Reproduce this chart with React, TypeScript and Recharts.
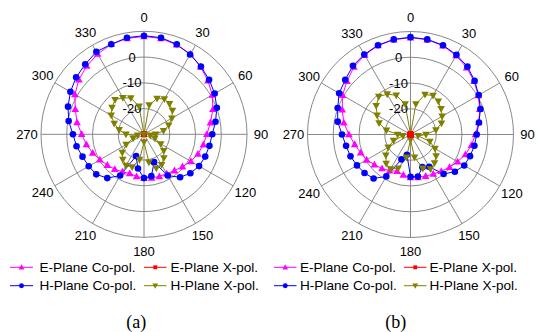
import React from 'react';
import { RadarChart, Radar, PolarGrid, PolarAngleAxis, PolarRadiusAxis } from 'recharts';

// ---------- data ----------
const angles = [0, 10, 20, 30, 40, 50, 60, 70, 80, 90, 100, 110, 120, 130, 140, 150, 160, 170,
  180, 190, 200, 210, 220, 230, 240, 250, 260, 270, 280, 290, 300, 310, 320, 330, 340, 350];

const gridAngles = [0, 30, 60, 90, 120, 150, 180, 210, 240, 270, 300, 330];
const radialTicks = [-20, -10, 0];
const radialRings = [-20, -10, 0, 10];
const radialDomain = [-30, 10];

// (a)
const aECo = [8.0, 7.8, 7.0, 6.0, 4.2, 2.4, 0.6, -1.5, -3.8, -5.6, -6.6, -7.7, -9.0, -10.5, -11.6, -12.3, -12.6, -12.8,
  -13.0, -13.4, -13.8, -13.2, -12.3, -11.4, -10.2, -8.8, -7.3, -5.8, -3.6, -1.6, 1.0, 3.0, 4.6, 6.0, 7.2, 7.8];
const aEX = [-30, -30, -30, -30, -30, -30, -30, -30, -30, -30, -30, -30, -30, -30, -30, -30, -30, -30,
  -30, -30, -30, -30, -30, -30, -30, -30, -30, -30, -30, -30, -30, -30, -30, -30, -30, -30];
const aHCo = [8.3, 8.1, 7.2, 5.8, 4.4, 3.0, 1.7, 0.1, -1.8, -3.5, -4.2, -4.7, -5.3, -6.5, -8.2, -11.5, -18.5, -13.5,
  -13.0, -16.5, -21.0, -11.5, -7.8, -5.8, -5.2, -4.6, -3.4, -2.4, -0.3, 1.4, 3.0, 4.4, 5.5, 7.0, 7.2, 8.1];
const aHX = [-30, -18.5, -15.2, -14.2, -14.6, -15.6, -17.5, -19.8, -22.3, -25.5, -27.5, -25.5, -22.5, -20, -18, -16.3, -16, -19,
  -27, -20, -16.5, -16, -17.2, -19, -22, -25.5, -27.5, -23, -20.2, -17.7, -15.3, -13.8, -12.5, -13.6, -15, -19];

// (b)
const bECo = [7.6, 7.4, 6.7, 5.4, 3.9, 2.2, 0.4, -1.4, -3.1, -4.8, -6.0, -7.3, -8.9, -10.2, -11.4, -12.3, -12.8, -13.1,
  -13.3, -14.0, -14.8, -13.8, -12.8, -11.7, -10.3, -9.4, -8.0, -6.1, -3.7, -1.8, 0.5, 2.2, 4.2, 5.6, 6.8, 7.4];
const bEX = [-30, -30, -30, -30, -30, -30, -30, -30, -30, -30, -30, -30, -30, -30, -30, -30, -30, -30,
  -30, -30, -30, -30, -30, -30, -30, -30, -30, -30, -30, -30, -30, -30, -30, -30, -30, -30];
const bHCo = [7.8, 7.5, 6.9, 5.7, 4.4, 2.5, 0.6, -1.1, -3.0, -4.3, -4.8, -5.4, -5.9, -7.5, -10, -15.5, -16.5, -13.4,
  -13.6, -22, -19.7, -11.2, -7.7, -6.7, -6.0, -5.2, -4.6, -3.4, -1.3, 0.1, 2.0, 3.1, 4.8, 5.9, 6.9, 7.5];
const bHX = [-30, -18, -13.5, -12.5, -13.2, -14.5, -15.8, -17.2, -20, -24, -27, -22, -19, -17, -15.5, -14.5, -16, -21,
  -28, -21, -16, -14.5, -15.3, -17.5, -20, -23, -27, -25, -20.5, -17, -15, -12.6, -10.8, -11.9, -13.8, -18];

const seriesNames = ['E-Plane Co-pol.', 'E-Plane X-pol.', 'H-Plane Co-pol.', 'H-Plane X-pol.'];
const panelLabels = ['(a)', '(b)'];

// ---------- styles ----------
const COL_E_CO = '#FF00FF';
const COL_E_X = '#FF0000';
const COL_H_CO = '#0000FF';
const COL_H_X = '#808000';
const GRID = '#7a7a7a';
const FONT = 'Arial, "Liberation Sans", sans-serif';
const OUTER_R = 103;

type Shape = 'up' | 'down' | 'circle' | 'square';

function Marker({ x, y, shape, color, s = 1 }: { x: number; y: number; shape: Shape; color: string; s?: number }) {
  if (shape === 'circle') return <circle cx={x} cy={y} r={3.3 * s} fill={color} stroke="none" />;
  if (shape === 'square') return <rect x={x - 2.6 * s} y={y - 2.6 * s} width={5.2 * s} height={5.2 * s} fill={color} />;
  if (shape === 'up')
    return <path d={`M${x},${y - 4 * s}L${x + 3.8 * s},${y + 2.8 * s}L${x - 3.8 * s},${y + 2.8 * s}Z`} fill={color} />;
  return <path d={`M${x},${y + 4 * s}L${x + 3.8 * s},${y - 2.8 * s}L${x - 3.8 * s},${y - 2.8 * s}Z`} fill={color} />;
}

function dotFn(shape: Shape, color: string) {
  return (p: any) => <Marker key={`d-${p.index}`} x={p.cx} y={p.cy} shape={shape} color={color} />;
}

function buildRows(eCo: number[], eX: number[], hCo: number[], hX: number[]) {
  return angles.map((a, i) => ({ angle: a, eCo: eCo[i], eX: eX[i], hCo: hCo[i], hX: hX[i] }));
}

function Panel({ rows, cx, cy, redOnTop }: { rows: any[]; cx: number; cy: number; redOnTop: boolean }) {
  const ringR = radialRings.map((v) => ((v - radialDomain[0]) / (radialDomain[1] - radialDomain[0])) * OUTER_R);
  const angleTick = (p: any) => {
    const v = Number(p.payload.value);
    if (v % 30 !== 0) return <g key={`t-${v}`} />;
    const t = (v * Math.PI) / 180;
    const rl = 117;
    return (
      <text key={`t-${v}`} x={cx + rl * Math.sin(t)} y={cy - rl * Math.cos(t)} textAnchor="middle"
        dominantBaseline="central" fontSize={13} fontFamily={FONT} fill="#000">{String(v)}</text>
    );
  };
  const radiusTick = (p: any) => {
    const v = Number(p.payload.value);
    if (!radialTicks.includes(v)) return <g key={`r-${v}`} />;
    return (
      <text key={`r-${v}`} x={cx - 12} y={p.y} textAnchor="middle" dominantBaseline="central"
        fontSize={13} fontFamily={FONT} fill="#000">{String(v)}</text>
    );
  };
  const red = <Radar key="ex" dataKey="eX" stroke={COL_E_X} strokeWidth={1} fill="none" fillOpacity={0}
    isAnimationActive={false} dot={dotFn('square', COL_E_X)} />;
  return (
    <RadarChart width={268} height={275} data={rows} cx={cx} cy={cy} outerRadius={OUTER_R}
      startAngle={90} endAngle={-270} margin={{ top: 0, right: 0, bottom: 0, left: 0 }}>
      <PolarGrid gridType="circle" polarAngles={gridAngles} polarRadius={ringR} stroke={GRID} strokeWidth={0.9} />
      <PolarAngleAxis dataKey="angle" axisLine={false} tickLine={false} tick={angleTick} />
      <PolarRadiusAxis angle={90} type="number" domain={radialDomain} tickCount={5} axisLine={false}
        tickLine={false} tick={radiusTick} allowDataOverflow />
      {!redOnTop && red}
      <Radar dataKey="eCo" stroke={COL_E_CO} strokeWidth={1} fill="none" fillOpacity={0}
        isAnimationActive={false} dot={dotFn('up', COL_E_CO)} />
      <Radar dataKey="hCo" stroke={COL_H_CO} strokeWidth={1} fill="none" fillOpacity={0}
        isAnimationActive={false} dot={dotFn('circle', COL_H_CO)} />
      <Radar dataKey="hX" stroke={COL_H_X} strokeWidth={1} fill="none" fillOpacity={0}
        isAnimationActive={false} dot={dotFn('down', COL_H_X)} />
      {redOnTop && red}
    </RadarChart>
  );
}

const legendCols = [
  { line: [10, 33], text: 39.5 },
  { line: [144, 166.5], text: 170.5 },
  { line: [274, 296.5], text: 300 },
  { line: [404, 426.5], text: 429.5 },
];
const legendRows = [267.3, 285.7];
const legendShapes: Shape[] = ['up', 'square', 'circle', 'down'];
const legendColors = [COL_E_CO, COL_E_X, COL_H_CO, COL_H_X];

function Legend({ c0, c1 }: { c0: number; c1: number }) {
  const items = [0, 1, 2, 3].map((i) => {
    const col = legendCols[i % 2 === 0 ? c0 : c1];
    const y = legendRows[i < 2 ? 0 : 1];
    const mx = (col.line[0] + col.line[1]) / 2;
    return (
      <g key={i}>
        <line x1={col.line[0]} x2={col.line[1]} y1={y} y2={y} stroke={legendColors[i]} strokeWidth={1} />
        <Marker x={mx} y={y} shape={legendShapes[i]} color={legendColors[i]} s={0.75} />
        <text x={col.text} y={y} dominantBaseline="central" fontSize={13.6} fontFamily={FONT} fill="#000">
          {seriesNames[i]}
        </text>
      </g>
    );
  });
  return <g>{items}</g>;
}

export default function App() {
  const rowsA = buildRows(aECo, aEX, aHCo, aHX);
  const rowsB = buildRows(bECo, bEX, bHCo, bHX);
  return (
    <div style={{ position: 'fixed', left: 0, top: 0, width: 537, height: 332, background: '#fff', overflow: 'hidden' }}>
      <div style={{ position: 'absolute', left: 0, top: 0 }}>
        <Panel rows={rowsA} cx={144} cy={134.3} redOnTop={false} />
      </div>
      <div style={{ position: 'absolute', left: 268, top: 0 }}>
        <Panel rows={rowsB} cx={142.5} cy={134.5} redOnTop={true} />
      </div>
      <svg width={537} height={332} style={{ position: 'absolute', left: 0, top: 0, pointerEvents: 'none' }}>
        <Legend c0={0} c1={1} />
        <Legend c0={2} c1={3} />
        <text x={136.3} y={322} textAnchor="middle" dominantBaseline="central" fontSize={18}
          fontFamily='"Times New Roman", "Liberation Serif", serif' fill="#000">{panelLabels[0]}</text>
        <text x={395.8} y={322} textAnchor="middle" dominantBaseline="central" fontSize={18}
          fontFamily='"Times New Roman", "Liberation Serif", serif' fill="#000">{panelLabels[1]}</text>
      </svg>
    </div>
  );
}
